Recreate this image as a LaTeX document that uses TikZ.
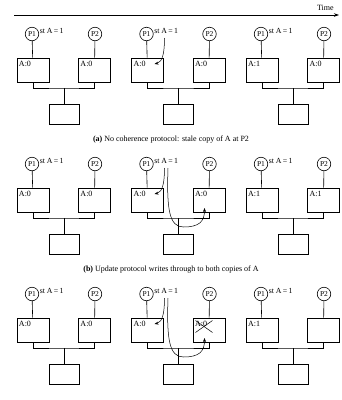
\documentclass[tikz,border=0pt]{standalone}
\usepackage{fontspec}
\setmainfont{Liberation Serif}
\usetikzlibrary{arrows.meta}
\tikzset{
  proc/.style={circle,draw,inner sep=0pt,minimum size=13.5pt,font=\fontsize{7.5}{8}\selectfont},
  cache/.style={draw,minimum width=32pt,minimum height=24pt,inner sep=0pt},
  mem/.style={draw,minimum width=30pt,minimum height=20pt,inner sep=0pt},
  val/.style={font=\fontsize{8}{9}\selectfont,inner sep=0pt,anchor=north west},
  lbl/.style={font=\fontsize{7.8}{9}\selectfont,inner sep=0pt,anchor=west},
  captext/.style={font=\fontsize{8}{10}\selectfont,inner sep=0pt},
  flow/.style={-{Stealth[length=4pt,width=3pt]},line width=0.5pt},
}
\newcommand\panel[5]{%
\begin{scope}[shift={(#2,#3)}]
  \node[proc] (#1p1) at (32,34) {P1};
  \node[proc] (#1p2) at (95,34) {P2};
  \node[lbl] (#1st) at (39.5,31) {st A\,=\,1};
  \node[cache] (#1c1) at (33,70) {};
  \node[cache] (#1c2) at (94.5,70) {};
  \node[val] (#1v1) at ([shift={(2,3)}]#1c1.north west) {#4};
  \node[val] (#1v2) at ([shift={(2,3)}]#1c2.north west) {#5};
  \node[mem] (#1m) at (64,114) {};
  \coordinate (#1b) at (64,88);
  \draw (#1p1) -- (#1c1);
  \draw (#1p2) -- (#1c2);
  \draw (#1c1.south) |- (#1b) -| (#1c2.south);
  \draw (#1b) -- (#1m);
\end{scope}}
\begin{document}
\begin{tikzpicture}[x=1pt,y=-1pt,line width=0.6pt]
\useasboundingbox (0,0) rectangle (342,400);
% time axis
\coordinate (t0) at (14,15);
\coordinate (t1) at (339,15);
\draw[line width=0.8pt,-{Stealth[length=5pt,width=3.5pt]}] (t0) -- (t1);
\node[captext,anchor=south east] (time) at (334,11) {Time};
% row a
\panel{ra}{0}{0}{A:0}{A:0}
\panel{rb}{114.5}{0}{A:0}{A:0}
\panel{rc}{229}{0}{A:1}{A:0}
\begin{scope}[shift={(114.5,0)}]
  \coordinate (ra1) at (50,38);
  \coordinate (ra2) at (40,64);
  \draw[flow] (ra1) .. controls (50,53) and (48,62) .. (ra2);
\end{scope}
\node[captext] (capa) at (171,140) {\textbf{(a)} No coherence protocol: stale copy of A at P2};
% row b
\panel{sa}{0}{130}{A:0}{A:0}
\panel{sb}{114.5}{130}{A:0}{A:0}
\panel{sc}{229}{130}{A:1}{A:1}
\begin{scope}[shift={(114.5,130)}]
  \coordinate (sb1) at (50,38);
  \coordinate (sb2) at (40,64);
  \coordinate (sb3) at (53.5,38);
  \coordinate (sb4) at (69,97);
  \coordinate (sb5) at (90,78);
  \draw[flow] (sb1) .. controls (50,53) and (48,62) .. (sb2);
  \draw[flow] (sb3) .. controls (52,80) and (55,97) .. (sb4) .. controls (84,97) and (90,92) .. (sb5);
\end{scope}
\node[captext] (capb) at (171,270) {\textbf{(b)} Update protocol writes through to both copies of A};
% row c
\panel{ua}{0}{260}{A:0}{A:0}
\panel{ub}{114.5}{260}{A:0}{A:0}
\panel{uc}{229}{260}{A:1}{}
\begin{scope}[shift={(114.5,260)}]
  \coordinate (ub1) at (50,38);
  \coordinate (ub2) at (40,64);
  \coordinate (ub3) at (53.5,38);
  \coordinate (ub4) at (69,97);
  \coordinate (ub5) at (90,78);
  \draw[flow] (ub1) .. controls (50,53) and (48,62) .. (ub2);
  \draw[flow] (ub3) .. controls (52,80) and (55,97) .. (ub4) .. controls (84,97) and (90,92) .. (ub5);
  \coordinate (x1) at (81,60.5);
  \coordinate (x2) at (98,72.5);
  \coordinate (x3) at (81,72.5);
  \coordinate (x4) at (98,60.5);
  \draw[line width=0.5pt] (x1) -- (x2);
  \draw[line width=0.5pt] (x3) -- (x4);
\end{scope}
\end{tikzpicture}
\end{document}
